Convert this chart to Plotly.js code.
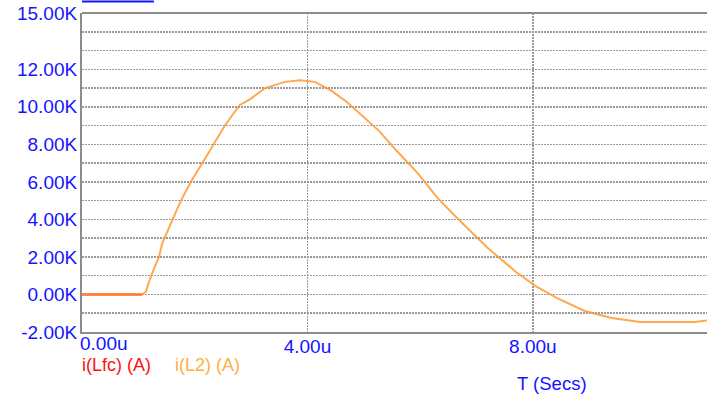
<!DOCTYPE html>
<html>
<head>
<meta charset="utf-8">
<script src="https://cdn.plot.ly/plotly-3.0.1.min.js"></script>
<style>html,body{margin:0;padding:0;background:#fff;}#chart{width:707px;height:394px;}</style>
</head>
<body>
<div id="chart"></div>
<script>
// Time in microseconds
const timeL2 = [0, 1.064, 1.135, 1.188, 1.272, 1.366, 1.424, 1.52, 1.596, 1.708, 1.786, 1.946, 2.27, 2.54, 2.80, 2.98, 3.25, 3.60, 3.87, 4.13, 4.43, 4.70, 5.27, 5.57, 5.96, 6.30, 6.62, 7.18, 7.70, 8.05, 8.43, 8.92, 9.40, 9.90, 10.87, 11.09];
// i(L2) in amperes
const iL2 = [0, 0, 150, 670, 1340, 2000, 2730, 3400, 3960, 4680, 5180, 6070, 7670, 9030, 10100, 10400, 11000, 11330, 11420, 11330, 10850, 10260, 8720, 7700, 6450, 5170, 4180, 2530, 1200, 450, -190, -880, -1250, -1470, -1470, -1390];
// i(Lfc) (visible only as the flat start, under i(L2))
const timeLfc = [0, 1.064];
const iLfc = [0, 0];

const yTickVals = [-2000, 0, 2000, 4000, 6000, 8000, 10000, 12000, 15000];
const yTickText = ["-2.00K", "0.00K", "2.00K", "4.00K", "6.00K", "8.00K", "10.00K", "12.00K", "15.00K"];
const xTickVals = [0, 4, 8];
const xTickText = ["", "4.00u", "8.00u"];
const legendNames = ["i(Lfc) (A)", "i(L2) (A)"];

const BLUE = "#1414ff";
const FONT = "Liberation Sans, Arial, Noto Sans CJK JP, sans-serif";
const GRID = "#9a9a9a";

const traces = [
  {x: timeLfc, y: iLfc, mode: "lines", line: {color: "#ff0000", width: 2}, name: legendNames[0], hoverinfo: "skip"},
  {x: timeL2, y: iL2, mode: "lines", line: {color: "#ff9933", width: 2}, opacity: 0.85, name: legendNames[1], hoverinfo: "skip"}
];

const layout = {
  width: 707, height: 394,
  margin: {l: 82, r: 0, t: 13, b: 62},
  paper_bgcolor: "#ffffff", plot_bgcolor: "#ffffff",
  showlegend: false,
  font: {family: FONT, size: 19, color: BLUE},
  xaxis: {
    range: [0, 11.09], tickmode: "array", tickvals: xTickVals, ticktext: xTickText,
    showgrid: true, gridcolor: GRID, griddash: "2px,1px", gridwidth: 1.5,
    zeroline: false, showline: true, linecolor: "#8c8c8c", linewidth: 2,
    ticks: "", tickfont: {family: FONT, size: 19, color: BLUE}, ticklabelstandoff: -4
  },
  yaxis: {
    range: [-2000, 15000], tickmode: "array", tickvals: yTickVals, ticktext: yTickText,
    showgrid: true, gridcolor: GRID, griddash: "2px,1px", gridwidth: 1.5,
    minor: {dtick: 1000, tick0: 0, showgrid: true, gridcolor: GRID, griddash: "2px,1px", gridwidth: 1.5, ticks: ""},
    zeroline: false, showline: true, linecolor: "#8c8c8c", linewidth: 2, mirror: false,
    ticks: "", tickfont: {family: FONT, size: 19, color: BLUE}, ticklabelstandoff: -1
  },
  shapes: [
    {type: "line", xref: "paper", yref: "paper", x0: 0, x1: 1, y0: 1, y1: 1, line: {color: "#8c8c8c", width: 2}},
    {type: "line", xref: "paper", yref: "paper", x0: 0.0, x1: 0.115, y0: 1.036, y1: 1.036, line: {color: BLUE, width: 2}}
  ],
  annotations: [
    {xref: "x", yref: "paper", x: 0, y: -0.003, xanchor: "left", yanchor: "top", xshift: -4, yshift: 2, showarrow: false, text: "0.00u", font: {family: FONT, size: 19, color: BLUE}},
    {xref: "paper", yref: "paper", x: -0.003, y: -0.065, xanchor: "left", yanchor: "top", showarrow: false, text: legendNames[0], font: {family: FONT, size: 18, color: "#ff1010"}},
    {xref: "paper", yref: "paper", x: 0.146, y: -0.065, xanchor: "left", yanchor: "top", showarrow: false, text: legendNames[1], font: {family: FONT, size: 18, color: "#ffb040"}},
    {xref: "paper", yref: "paper", x: 0.692, y: -0.122, xanchor: "left", yanchor: "top", showarrow: false, text: "T (Secs)", font: {family: FONT, size: 18.5, color: BLUE}}
  ]
};

Plotly.newPlot("chart", traces, layout, {staticPlot: true, displayModeBar: false});
</script>
</body>
</html>
